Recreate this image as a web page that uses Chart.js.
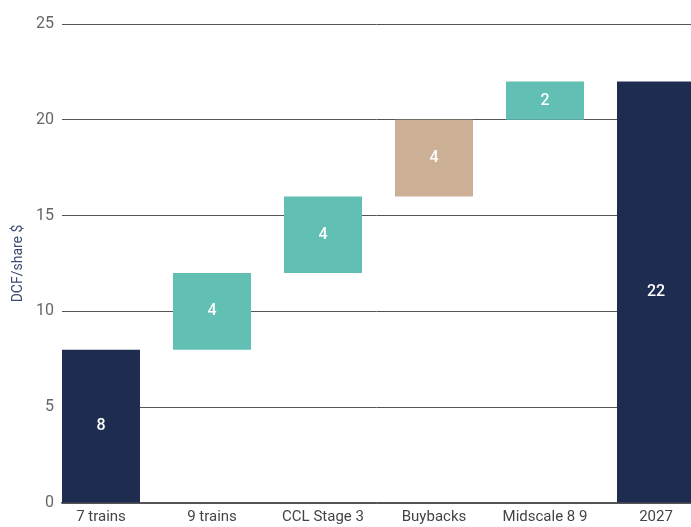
<!DOCTYPE html>
<html>
<head>
<meta charset="utf-8">
<script src="https://cdn.jsdelivr.net/npm/chart.js@4.4.0/dist/chart.umd.min.js"></script>
<style>
  html, body { margin: 0; padding: 0; background: #fff; overflow: hidden; }
  #wrap { width: 691px; height: 527px; }
</style>
</head>
<body>
<div id="wrap"><canvas id="dcf"></canvas></div>
<script>
const categories = ["7 trains", "9 trains", "CCL Stage 3", "Buybacks", "Midscale 8 9", "2027"];
const bases = [0, 8, 12, 16, 20, 0];
const changes = [8, 4, 4, 4, 2, 22];
const yTicks = [0, 5, 10, 15, 20, 25];

const NAVY = "#1e2d4f";
const TEAL = "#61c0b3";
const TAN = "#cbb095";
const barColors = [NAVY, TEAL, TEAL, TAN, TEAL, NAVY];

const barLabels = {
  id: "barLabels",
  afterDatasetsDraw(chart) {
    const ctx = chart.ctx;
    const meta = chart.getDatasetMeta(0);
    ctx.save();
    ctx.fillStyle = "#ffffff";
    ctx.font = "500 16px Roboto";
    ctx.textAlign = "center";
    ctx.textBaseline = "middle";
    meta.data.forEach(function (bar, i) {
      const mid = (bar.y + bar.base) / 2;
      ctx.fillText(String(changes[i]), bar.x, mid);
    });
    ctx.restore();
  },
};

document.addEventListener("DOMContentLoaded", function () {
  new Chart(document.getElementById("dcf").getContext("2d"), {
    type: "bar",
    data: {
      datasets: [
        {
          data: categories.map(function (c, i) {
            return { x: i, y: [bases[i], bases[i] + changes[i]] };
          }),
          backgroundColor: barColors,
          borderWidth: 0,
          barPercentage: 78 / 111,
          categoryPercentage: 1,
        },
      ],
    },
    options: {
      responsive: true,
      maintainAspectRatio: false,
      animation: false,
      layout: { padding: { top: 24, right: 0, left: 0, bottom: 0 } },
      plugins: { legend: { display: false }, tooltip: { enabled: false } },
      scales: {
        x: {
          type: "linear",
          offset: false,
          min: -39 / 111,
          max: -39 / 111 + 629 / 111,
          grid: { display: false, drawTicks: false },
          border: { display: true, color: "#555555", width: 1.5 },
          afterBuildTicks: function (scale) {
            scale.ticks = categories.map(function (c, i) { return { value: i }; });
          },
          afterFit: function (scale) { scale.height = 24; },
          ticks: {
            autoSkip: false,
            maxRotation: 0,
            padding: 5,
            color: "#444444",
            font: { family: "Roboto", size: 15 },
            callback: function (v) { return categories[v]; },
          },
        },
        y: {
          min: 0,
          max: 25,
          afterBuildTicks: function (scale) {
            scale.ticks = yTicks.map(function (v) { return { value: v }; });
          },
          afterFit: function (scale) { scale.width = 62; },
          grid: { color: "#555555", lineWidth: 1, drawTicks: false },
          border: { display: false },
          title: {
            display: true,
            text: "DCF/share $",
            color: "#3a4a72",
            font: { family: "Roboto", size: 14 },
            padding: { top: 10, bottom: 0 },
          },
          ticks: {
            padding: 8,
            color: "#666666",
            font: { family: "Roboto", size: 16 },
          },
        },
      },
    },
    plugins: [barLabels],
  });
});
</script>
</body>
</html>
